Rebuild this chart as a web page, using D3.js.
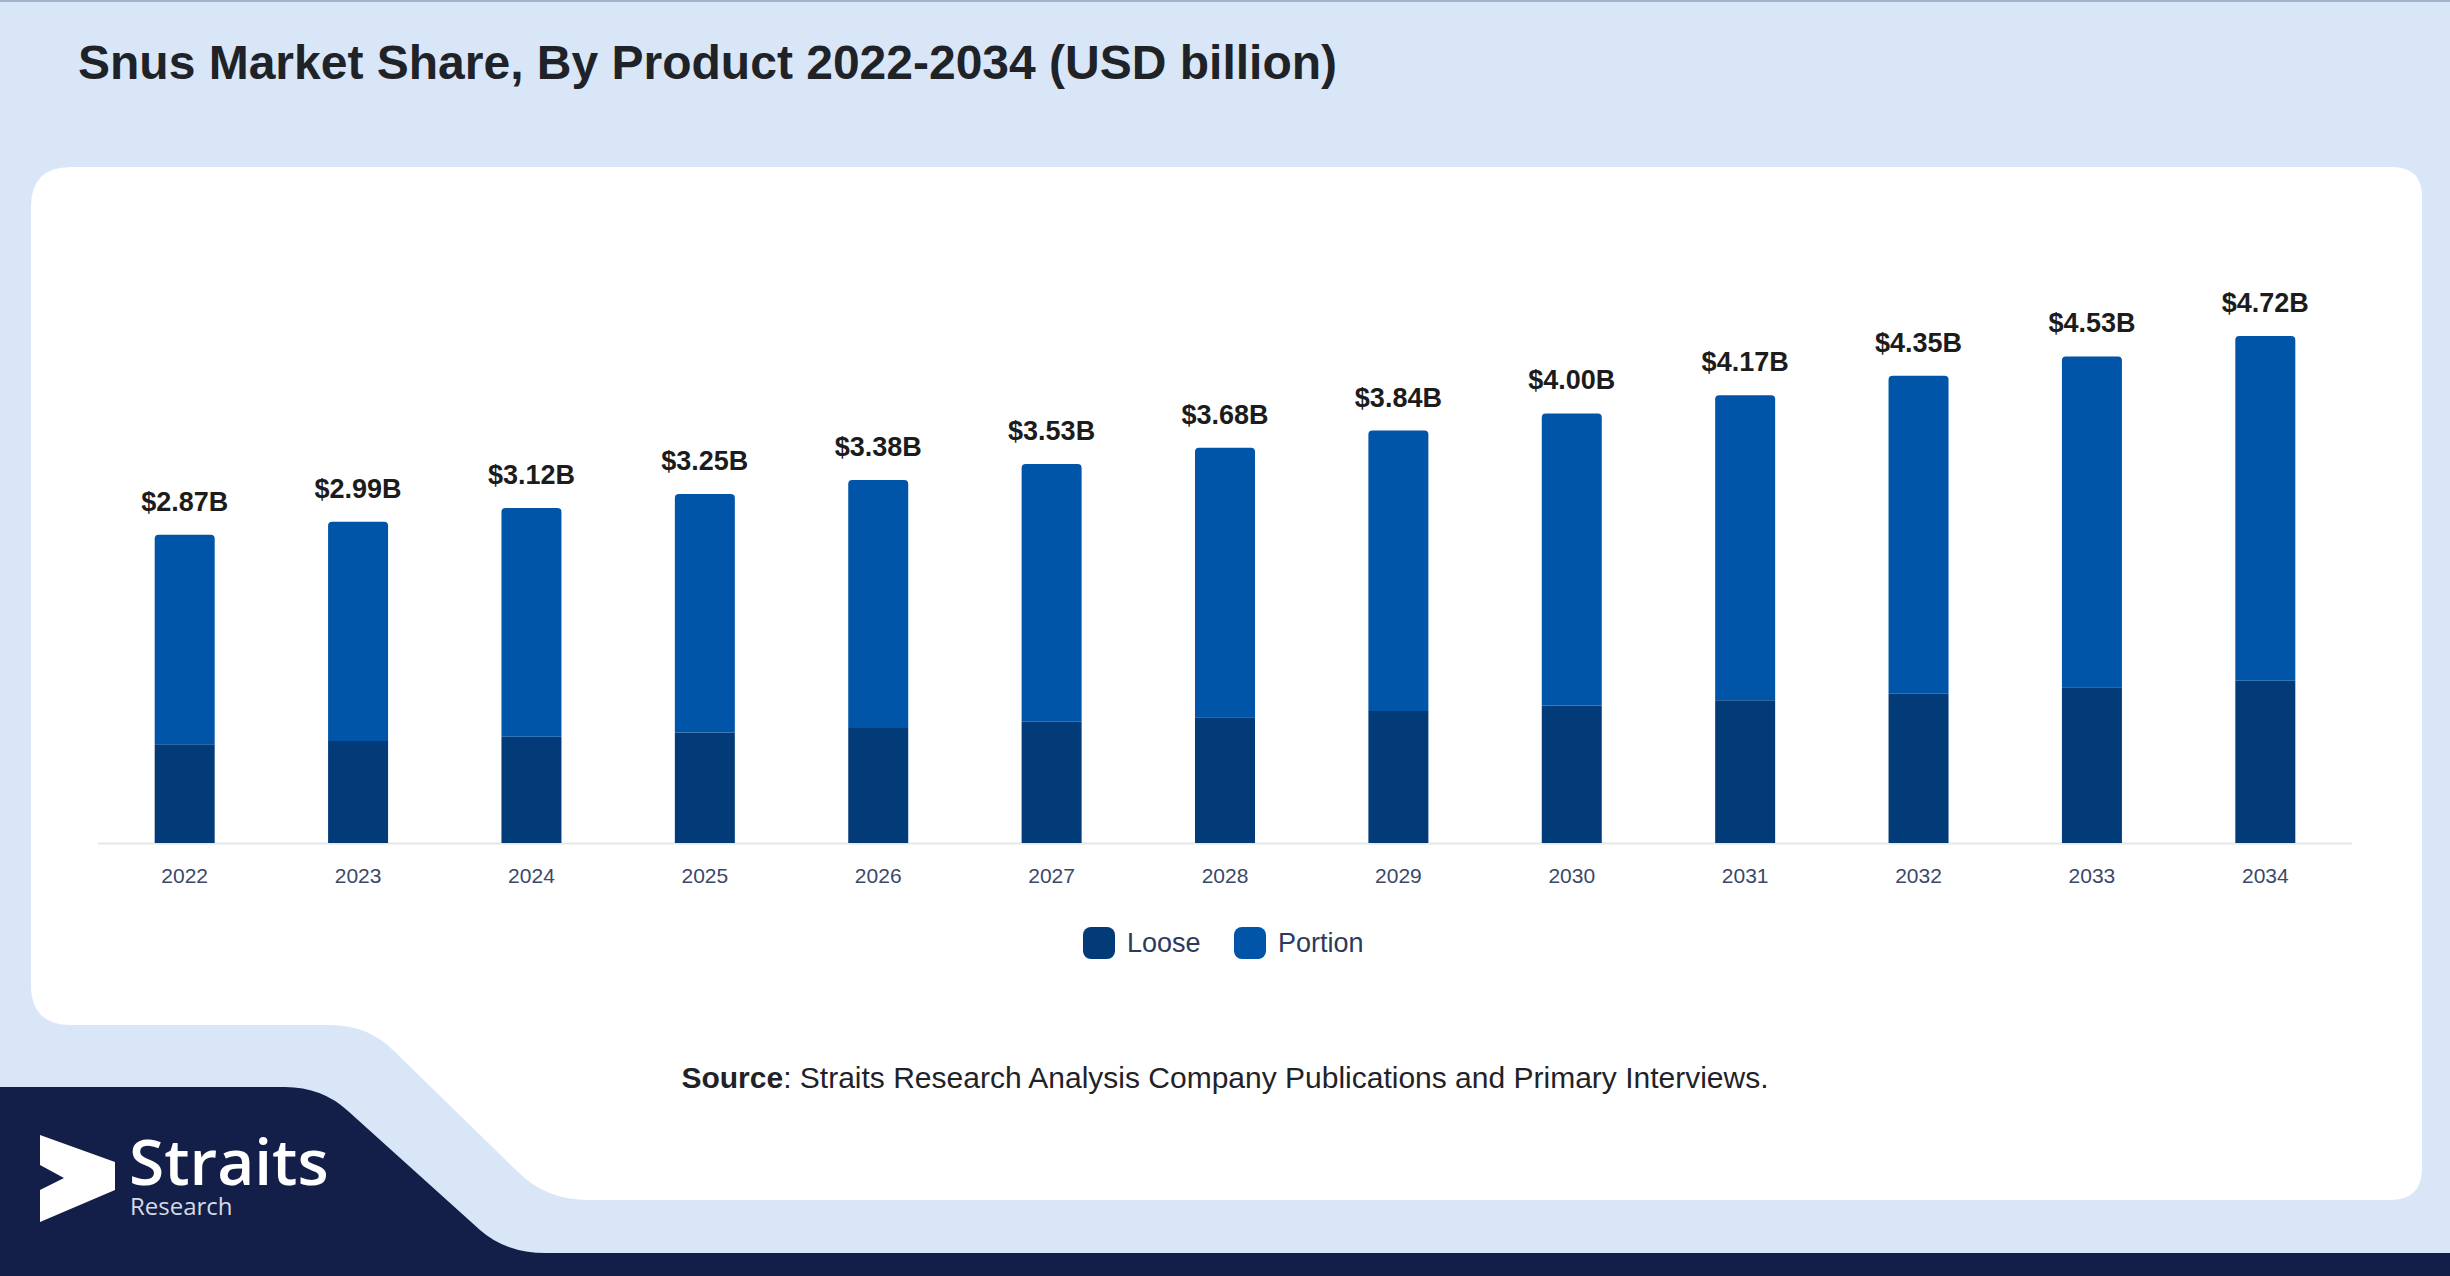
<!DOCTYPE html>
<html>
<head>
<meta charset="utf-8">
<script src="https://cdn.jsdelivr.net/npm/d3@7"></script>
<style>
  html, body { margin: 0; padding: 0; background: #d9e6f8; }
  svg { display: block; }
</style>
</head>
<body>
<svg id="chart" width="2450" height="1276"></svg>
<script>
// ---- data (USD billion) ----
const years = ["2022", "2023", "2024", "2025", "2026", "2027", "2028", "2029", "2030", "2031", "2032", "2033", "2034"];
const loose = [0.92, 0.95, 0.99, 1.03, 1.07, 1.13, 1.17, 1.23, 1.28, 1.33, 1.39, 1.45, 1.51];
const portion = [1.95, 2.04, 2.13, 2.22, 2.31, 2.40, 2.51, 2.61, 2.72, 2.84, 2.96, 3.08, 3.21];
const seriesNames = ["Loose", "Portion"];
const seriesColors = ["#033b79", "#0055a8"];

const svg = d3.select("#chart");
const W = 2450, H = 1276;

// ---- background decoration ----
svg.append("rect").attr("width", W).attr("height", H).attr("fill", "#d9e6f8");
svg.append("rect").attr("width", W).attr("height", 2).attr("fill", "#a4b2cd");

// white card with stepped lower-left edge
const card = d3.path();
card.moveTo(71, 167);
card.lineTo(2392, 167);
card.quadraticCurveTo(2422, 167, 2422, 197);
card.lineTo(2422, 1168);
card.quadraticCurveTo(2422, 1200, 2390, 1200);
card.lineTo(588, 1200);
card.quadraticCurveTo(546, 1200, 518, 1172);
card.lineTo(394, 1051);
card.quadraticCurveTo(368, 1025, 330, 1025);
card.lineTo(71, 1025);
card.quadraticCurveTo(31, 1025, 31, 985);
card.lineTo(31, 207);
card.quadraticCurveTo(31, 167, 71, 167);
card.closePath();
svg.append("path").attr("d", card.toString()).attr("fill", "#ffffff");

// navy footer band
const foot = d3.path();
foot.moveTo(0, 1087);
foot.lineTo(285, 1087);
foot.quadraticCurveTo(322, 1087, 348, 1111);
foot.lineTo(480, 1230);
foot.quadraticCurveTo(506, 1253, 546, 1253);
foot.lineTo(W, 1253);
foot.lineTo(W, H);
foot.lineTo(0, H);
foot.closePath();
svg.append("path").attr("d", foot.toString()).attr("fill", "#131f48");

// ---- title ----
svg.append("text")
    .attr("x", 78)
    .attr("y", 79)
    .style("font-family", "'Liberation Sans', Arial, sans-serif")
    .style("font-size", "48px")
    .style("font-weight", "700")
    .style("fill", "#1f2328")
    .text("Snus Market Share, By Product 2022-2034 (USD billion)");

// ---- chart ----
const baseY = 843;
const x = d3.scaleBand()
    .domain(years)
    .range([98, 2352])
    .paddingInner(0.654)
    .paddingOuter(0.327);

const y = d3.scaleLinear()
    .domain([0, 5])
    .range([baseY, baseY - 537]);

const rows = years.map((yr, i) => ({ year: yr, Loose: loose[i], Portion: portion[i] }));
const stacked = d3.stack().keys(seriesNames)(rows);

const g = svg.append("g");

// axis line
g.append("line")
    .attr("x1", 98).attr("x2", 2352)
    .attr("y1", baseY + 0.5).attr("y2", baseY + 0.5)
    .attr("stroke", "#e3e6ea")
    .attr("stroke-width", 2);

stacked.forEach((layer, si) => {
    g.selectAll(".bar-" + si)
        .data(layer)
        .enter()
        .append("path")
        .attr("fill", seriesColors[si])
        .attr("d", d => {
            const x0 = x(d.data.year), w = x.bandwidth();
            const yTop = y(d[1]), yBot = y(d[0]);
            const r = si === seriesNames.length - 1 ? 4 : 0;
            const p = d3.path();
            p.moveTo(x0, yBot);
            p.lineTo(x0, yTop + r);
            p.quadraticCurveTo(x0, yTop, x0 + r, yTop);
            p.lineTo(x0 + w - r, yTop);
            p.quadraticCurveTo(x0 + w, yTop, x0 + w, yTop + r);
            p.lineTo(x0 + w, yBot);
            p.closePath();
            return p.toString();
        });
});

// total labels
g.selectAll(".total")
    .data(rows)
    .enter()
    .append("text")
    .attr("x", d => x(d.year) + x.bandwidth() / 2)
    .attr("y", d => y(d.Loose + d.Portion) - 24)
    .attr("text-anchor", "middle")
    .style("font-family", "'Liberation Sans', Arial, sans-serif")
    .style("font-size", "27px")
    .style("font-weight", "700")
    .style("fill", "#1c1c1c")
    .text(d => "$" + (d.Loose + d.Portion).toFixed(2) + "B");

// x axis labels
const xAxis = g.append("g")
    .attr("transform", `translate(0,${baseY})`)
    .call(d3.axisBottom(x).tickSize(0).tickPadding(40));
xAxis.select(".domain").remove();
xAxis.selectAll("text")
    .style("font-family", "'Liberation Sans', Arial, sans-serif")
    .style("font-size", "21px")
    .style("fill", "#3b4868")
    .attr("dy", 0);

// ---- legend ----
const legendItems = [
    { name: "Loose", color: seriesColors[0], x: 1083 },
    { name: "Portion", color: seriesColors[1], x: 1234 }
];
const lg = svg.append("g");
legendItems.forEach(item => {
    lg.append("rect")
        .attr("x", item.x).attr("y", 927)
        .attr("width", 32).attr("height", 32)
        .attr("rx", 8)
        .attr("fill", item.color);
    lg.append("text")
        .attr("x", item.x + 44)
        .attr("y", 952)
        .style("font-family", "'Liberation Sans', Arial, sans-serif")
        .style("font-size", "27px")
        .style("fill", "#2b3a5c")
        .text(item.name);
});

// ---- source ----
const src = svg.append("text")
    .attr("x", 1225)
    .attr("y", 1088)
    .attr("text-anchor", "middle")
    .style("font-family", "'Liberation Sans', Arial, sans-serif")
    .style("font-size", "30px")
    .style("fill", "#1f2328");
src.append("tspan").style("font-weight", "700").text("Source");
src.append("tspan").text(": Straits Research Analysis Company Publications and Primary Interviews.");

// ---- logo ----
const logo = svg.append("g");
logo.append("path")
    .attr("d", "M40,1135 L115,1162 L115,1190 L40,1222 L40,1190 L64,1178 L40,1165 Z")
    .attr("fill", "#ffffff");
logo.append("text")
    .attr("x", 129).attr("y", 1185)
    .style("font-family", "'Open Sans', sans-serif")
    .style("font-size", "64px")
    .style("font-weight", "600")
    .style("fill", "#ffffff")
    .text("Straits");
logo.append("text")
    .attr("x", 130).attr("y", 1215)
    .style("font-family", "'Open Sans', sans-serif")
    .style("font-size", "24px")
    .style("fill", "#d5dbe6")
    .text("Research");
</script>
</body>
</html>
